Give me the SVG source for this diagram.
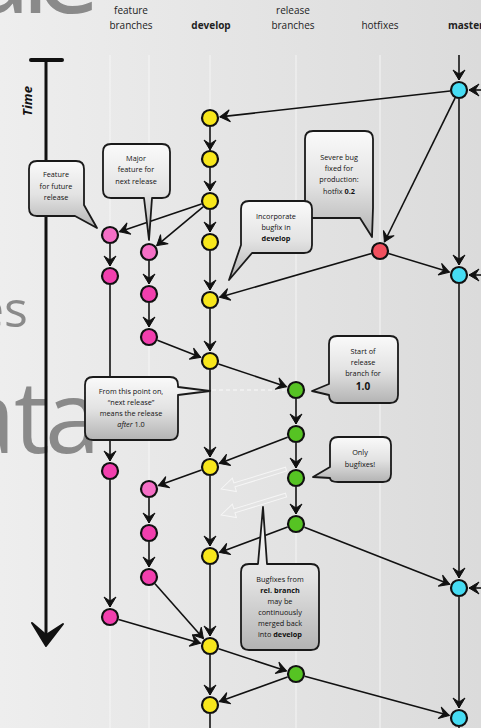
<svg xmlns="http://www.w3.org/2000/svg" width="481" height="728" viewBox="0 0 481 728">
<defs>
<linearGradient id="bgg" x1="0" y1="0" x2="1" y2="0">
<stop offset="0" stop-color="#eeeeee"/><stop offset="1" stop-color="#dbdbdb"/>
</linearGradient>
<linearGradient id="bub" x1="0" y1="0" x2="0" y2="1">
<stop offset="0" stop-color="#fafafa"/><stop offset="0.5" stop-color="#e3e3e3"/><stop offset="1" stop-color="#b3b3b3"/>
</linearGradient>
<marker id="a" markerUnits="userSpaceOnUse" markerWidth="14" markerHeight="14" viewBox="-12 -7 14 14" refX="0" refY="0" orient="auto">
<path d="M-10,-6 L0,0 L-10,6 L-6,0 Z" fill="#111" stroke="#111" stroke-width="1"/>
</marker>
<style>
.lane{stroke:#f7f7f7;stroke-width:1.6;opacity:.6}
.e{stroke:#111;stroke-width:1.6;fill:none;marker-end:url(#a)}
.l{stroke:#111;stroke-width:1.6;fill:none}
.n{stroke:#111;stroke-width:2.2}
.y{fill:#f8e71c}.c{fill:#46dcf3}.r{fill:#f2505e}.g{fill:#56c323}.p{fill:#f23fae}.pl{fill:#f56fc6}
.b{fill:url(#bub);stroke:#1a1a1a;stroke-width:1.8;stroke-linejoin:round}
.bt{font-family:"Open Sans","Liberation Sans",sans-serif;font-size:7.3px;fill:#111;text-anchor:middle}
.h{font-family:"Open Sans","Liberation Sans",sans-serif;font-size:10px;fill:#222;text-anchor:middle}
.big{font-family:"Open Sans","Liberation Sans",sans-serif;fill:#8a8a8a}
.ghost{fill:none;stroke:#ffffff;stroke-width:1;opacity:.65}
</style>
</defs>
<rect width="481" height="728" fill="url(#bgg)"/>
<g id="bgtext">
<text class="big" font-size="115" y="13"><tspan x="-33">a</tspan><tspan x="21">l</tspan><tspan x="36">e</tspan></text>
<text class="big" font-size="50" x="-24" y="327">es</text>
<text class="big" font-size="100" y="453"><tspan x="-40">a</tspan><tspan x="14">t</tspan><tspan x="45">a</tspan></text>
</g>
<g id="lanes">
<line class="lane" x1="110" y1="55" x2="110" y2="728"/>
<line class="lane" x1="149" y1="55" x2="149" y2="728"/>
<line class="lane" x1="210" y1="55" x2="210" y2="728"/>
<line class="lane" x1="296" y1="55" x2="296" y2="728"/>
<line class="lane" x1="380" y1="55" x2="380" y2="728"/>
<line class="lane" x1="459" y1="55" x2="459" y2="728"/>
</g>
<g id="headers">
<text class="h" x="131" y="14">feature</text>
<text class="h" x="131" y="29">branches</text>
<text class="h" x="211" y="29" font-weight="bold">develop</text>
<text class="h" x="293" y="14">release</text>
<text class="h" x="293" y="29">branches</text>
<text class="h" x="380" y="29">hotfixes</text>
<text class="h" x="448" y="29" font-weight="bold" style="text-anchor:start">master</text>
</g>
<g id="time-axis">
<line x1="31" y1="60" x2="62" y2="60" stroke="#111" stroke-width="4" stroke-linecap="round"/>
<line x1="46" y1="60" x2="46" y2="638" stroke="#111" stroke-width="3"/>
<path d="M32,623 L46,646 L63,624 L46,635 Z" fill="#111" stroke="#111" stroke-width="2" stroke-linejoin="round"/>
<text x="32" y="101" transform="rotate(-90 32 101)" font-family="'Open Sans','Liberation Sans',sans-serif" font-size="13" font-weight="bold" font-style="italic" fill="#111" text-anchor="middle">Time</text>
</g>
<g id="ghosts">
<line x1="212" y1="390" x2="285" y2="390" stroke="#fff" stroke-width="1.2" stroke-dasharray="4 3" opacity=".8"/>
<path class="ghost" transform="translate(221,489) rotate(-17)" d="M0,0 L14,-7 L14,-2 L68,-2 L68,2 L14,2 L14,7 Z"/>
<path class="ghost" transform="translate(221,515) rotate(-17)" d="M0,0 L14,-7 L14,-2 L68,-2 L68,2 L14,2 L14,7 Z"/>
</g>
<g id="connectors">
<line class="e" x1="210" y1="127" x2="210" y2="150"/>
<line class="e" x1="210" y1="168" x2="210" y2="191"/>
<line class="e" x1="210" y1="210" x2="210" y2="232"/>
<line class="e" x1="210" y1="251" x2="210" y2="290"/>
<line class="e" x1="210" y1="309" x2="210" y2="351"/>
<line class="e" x1="210" y1="370" x2="210" y2="457"/>
<line class="e" x1="210" y1="476" x2="210" y2="546"/>
<line class="e" x1="210" y1="565" x2="210" y2="636"/>
<line class="e" x1="210" y1="655" x2="210" y2="695"/>
<line class="l" x1="210" y1="714" x2="210" y2="728"/>
<line class="e" x1="459" y1="55" x2="459" y2="80"/>
<line class="e" x1="459" y1="99" x2="459" y2="265"/>
<line class="e" x1="459" y1="284" x2="459" y2="578"/>
<line class="e" x1="459" y1="597" x2="459" y2="708"/>
<line class="l" x1="459" y1="727" x2="459" y2="740"/>
<line class="e" x1="495" y1="90" x2="469" y2="90"/>
<line class="e" x1="495" y1="275" x2="469" y2="275"/>
<line class="e" x1="495" y1="588" x2="469" y2="588"/>
<line class="e" x1="110" y1="244" x2="110" y2="266"/>
<line class="e" x1="110" y1="285" x2="110" y2="461"/>
<line class="e" x1="110" y1="480" x2="110" y2="607"/>
<line class="e" x1="149" y1="261" x2="149" y2="284"/>
<line class="e" x1="149" y1="303" x2="149" y2="327"/>
<line class="e" x1="149" y1="498" x2="149" y2="523"/>
<line class="e" x1="149" y1="542" x2="149" y2="567"/>
<line class="e" x1="296" y1="399" x2="296" y2="424"/>
<line class="e" x1="296" y1="443" x2="296" y2="468"/>
<line class="e" x1="296" y1="487" x2="296" y2="514"/>
<line class="e" x1="450.1" y1="91" x2="219.9" y2="116.9"/>
<line class="e" x1="455" y1="98.1" x2="384.4" y2="242"/>
<line class="e" x1="388.6" y1="253.6" x2="449.4" y2="272.1"/>
<line class="e" x1="371.4" y1="253.5" x2="219.6" y2="297.2"/>
<line class="e" x1="201.5" y1="203.9" x2="119.5" y2="231.8"/>
<line class="e" x1="203.1" y1="206.8" x2="156.7" y2="245.6"/>
<line class="e" x1="118.6" y1="619.5" x2="200.4" y2="643.2"/>
<line class="e" x1="157.4" y1="340.3" x2="200.7" y2="357.3"/>
<line class="e" x1="201.5" y1="470.1" x2="158.4" y2="485.6"/>
<line class="e" x1="155" y1="583.7" x2="203.4" y2="638.5"/>
<line class="e" x1="218.5" y1="363.9" x2="286.5" y2="386.8"/>
<line class="e" x1="287.6" y1="437.2" x2="219.3" y2="463.4"/>
<line class="e" x1="287.6" y1="527.1" x2="219.4" y2="552.5"/>
<line class="e" x1="304.4" y1="527.3" x2="449.7" y2="584.3"/>
<line class="e" x1="218.6" y1="648.8" x2="286.5" y2="670.9"/>
<line class="e" x1="287.5" y1="677.1" x2="219.4" y2="701.6"/>
<line class="e" x1="304.7" y1="676.3" x2="449.3" y2="715.4"/>
</g>
<g id="develop-nodes">
<circle id="D1" class="n y" cx="210" cy="118" r="8"/>
<circle id="D2" class="n y" cx="210" cy="159" r="8"/>
<circle id="D3" class="n y" cx="210" cy="201" r="8"/>
<circle id="D4" class="n y" cx="210" cy="242" r="8"/>
<circle id="D5" class="n y" cx="210" cy="300" r="8"/>
<circle id="D6" class="n y" cx="210" cy="361" r="8"/>
<circle id="D7" class="n y" cx="210" cy="467" r="8"/>
<circle id="D8" class="n y" cx="210" cy="556" r="8"/>
<circle id="D9" class="n y" cx="210" cy="646" r="8"/>
<circle id="D10" class="n y" cx="210" cy="705" r="8"/>
</g>
<g id="master-nodes">
<circle id="M1" class="n c" cx="459" cy="90" r="8"/>
<circle id="M2" class="n c" cx="459" cy="275" r="8"/>
<circle id="M3" class="n c" cx="459" cy="588" r="8"/>
<circle id="M4" class="n c" cx="459" cy="718" r="8"/>
</g>
<g id="hotfix-nodes">
<circle id="H1" class="n r" cx="380" cy="251" r="8"/>
</g>
<g id="feature-nodes">
<circle id="F1a" class="n pl" cx="110" cy="235" r="8"/>
<circle id="F1b" class="n p" cx="110" cy="276" r="8"/>
<circle id="F1c" class="n p" cx="110" cy="471" r="8"/>
<circle id="F1d" class="n p" cx="110" cy="617" r="8"/>
<circle id="F2a" class="n pl" cx="149" cy="252" r="8"/>
<circle id="F2b" class="n p" cx="149" cy="294" r="8"/>
<circle id="F2c" class="n p" cx="149" cy="337" r="8"/>
<circle id="F2d" class="n pl" cx="149" cy="489" r="8"/>
<circle id="F2e" class="n p" cx="149" cy="533" r="8"/>
<circle id="F2f" class="n p" cx="149" cy="577" r="8"/>
</g>
<g id="release-nodes">
<circle id="R1" class="n g" cx="296" cy="390" r="8"/>
<circle id="R2" class="n g" cx="296" cy="434" r="8"/>
<circle id="R3" class="n g" cx="296" cy="478" r="8"/>
<circle id="R4" class="n g" cx="296" cy="524" r="8"/>
<circle id="R5" class="n g" cx="296" cy="674" r="8"/>
</g>
<g id="bubble-future">
<path class="b" d="M37,161 H76 Q84,161 84,169 V205 L97,228 L75,216 H37 Q29,216 29,208 V169 Q29,161 37,161 Z"/>
<text class="bt" x="56" y="177">Feature</text>
<text class="bt" x="56" y="189">for future</text>
<text class="bt" x="56" y="200">release</text>
</g>
<g id="bubble-major">
<path class="b" d="M111,144 H162 Q170,144 170,152 V190 Q170,198 162,198 H152 L149,240 L144,198 H111 Q103,198 103,190 V152 Q103,144 111,144 Z"/>
<text class="bt" x="136" y="161">Major</text>
<text class="bt" x="136" y="172">feature for</text>
<text class="bt" x="136" y="184">next release</text>
</g>
<g id="bubble-severe">
<path class="b" d="M313,131 H365 Q373,131 373,139 V208 L372,237 L360,218 H313 Q305,218 305,210 V139 Q305,131 313,131 Z"/>
<text class="bt" x="339" y="160">Severe bug</text>
<text class="bt" x="339" y="171">fixed for</text>
<text class="bt" x="339" y="182">production:</text>
<text class="bt" x="339" y="194">hotfix <tspan font-weight="bold">0.2</tspan></text>
</g>
<g id="bubble-incorporate">
<path class="b" d="M249,201 H304 Q312,201 312,209 V245 Q312,253 304,253 H252 L229,280 L241,245 V209 Q241,201 249,201 Z"/>
<text class="bt" x="276" y="219">Incorporate</text>
<text class="bt" x="276" y="230">bugfix in</text>
<text class="bt" x="276" y="241" font-weight="bold">develop</text>
</g>
<g id="bubble-start">
<path class="b" d="M337,336 H390 Q398,336 398,344 V395 Q398,403 390,403 H337 Q329,403 329,395 L312,391 L329,384 V344 Q329,336 337,336 Z"/>
<text class="bt" x="363" y="354">Start of</text>
<text class="bt" x="363" y="365">release</text>
<text class="bt" x="363" y="376">branch for</text>
<text class="bt" x="363" y="390" font-weight="bold" style="font-size:10px">1.0</text>
</g>
<g id="bubble-from">
<path class="b" d="M93,377 H170 Q178,377 178,385 V387 L210,391 L178,395 V432 Q178,440 170,440 H93 Q85,440 85,432 V385 Q85,377 93,377 Z"/>
<text class="bt" x="131" y="394">From this point on,</text>
<text class="bt" x="131" y="405">“next release”</text>
<text class="bt" x="131" y="416">means the release</text>
<text class="bt" x="131" y="427"><tspan font-style="italic">after</tspan> 1.0</text>
</g>
<g id="bubble-only">
<path class="b" d="M338,437 H383 Q391,437 391,445 V474 Q391,482 383,482 H338 Q330,482 330,478 L313,477 L330,467 V445 Q330,437 338,437 Z"/>
<text class="bt" x="360" y="455">Only</text>
<text class="bt" x="360" y="467">bugfixes!</text>
</g>
<g id="bubble-bugfixes">
<path class="b" d="M249,564 H258 L263,507 L267,564 H311 Q319,564 319,572 V642 Q319,650 311,650 H249 Q241,650 241,642 V572 Q241,564 249,564 Z"/>
<text class="bt" x="280" y="582">Bugfixes from</text>
<text class="bt" x="280" y="593" font-weight="bold">rel. branch</text>
<text class="bt" x="280" y="604">may be</text>
<text class="bt" x="280" y="615">continuously</text>
<text class="bt" x="280" y="626">merged back</text>
<text class="bt" x="280" y="637">into <tspan font-weight="bold">develop</tspan></text>
</g>
</svg>
